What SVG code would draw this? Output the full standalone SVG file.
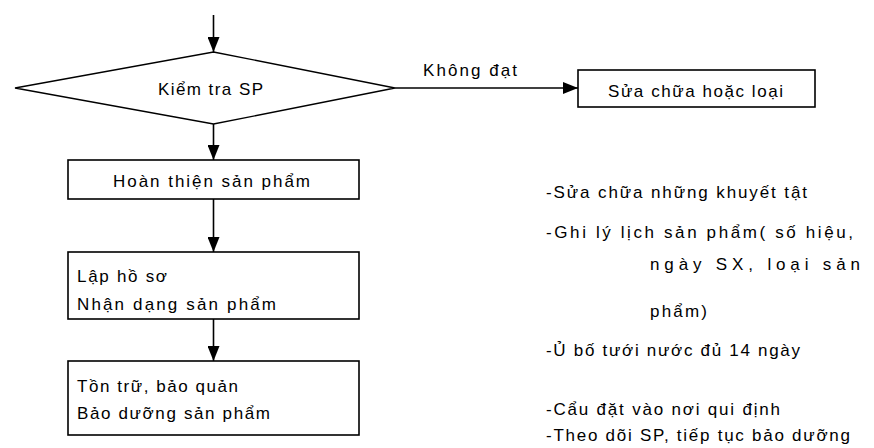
<svg xmlns="http://www.w3.org/2000/svg" width="874" height="448" viewBox="0 0 874 448">
  <style>
    .shape { fill: #ffffff; stroke: #000000; stroke-width: 1.6; }
    .diamond { fill: #ffffff; stroke: #000000; stroke-width: 1.3; }
    .edge { fill: none; stroke: #000000; stroke-width: 1.6; }
    text { font-family: "Liberation Sans", Arial, sans-serif; font-size: 17px; fill: #000000; }
  </style>
  <defs>
    <marker id="arrow" markerUnits="userSpaceOnUse" markerWidth="15" markerHeight="12" refX="15" refY="6" orient="auto">
      <path d="M0,0 L15,6 L0,12 z" fill="#000000"/>
    </marker>
  </defs>

  <!-- connectors -->
  <g id="connectors">
    <line class="edge" x1="213.5" y1="15" x2="213.5" y2="52" marker-end="url(#arrow)"/>
    <line class="edge" x1="213.5" y1="124" x2="213.5" y2="160" marker-end="url(#arrow)"/>
    <line class="edge" x1="213.5" y1="199" x2="213.5" y2="252" marker-end="url(#arrow)"/>
    <line class="edge" x1="213.5" y1="319" x2="213.5" y2="361" marker-end="url(#arrow)"/>
    <line class="edge" x1="395" y1="88" x2="578" y2="88" marker-end="url(#arrow)"/>
    <text x="423" y="76" textLength="94" lengthAdjust="spacing">Không đạt</text>
  </g>

  <!-- decision -->
  <g id="kiem-tra">
    <polygon class="diamond" points="213.5,52 395,88 213.5,124 15,88"/>
    <text x="158" y="95" textLength="105" lengthAdjust="spacing">Kiểm tra SP</text>
  </g>

  <g id="sua-chua">
    <rect class="shape" x="578" y="70" width="237" height="37"/>
    <text x="608" y="97" textLength="175" lengthAdjust="spacing">Sửa chữa hoặc loại</text>
  </g>

  <g id="hoan-thien">
    <rect class="shape" x="68" y="160" width="291" height="39"/>
    <text x="113" y="187" textLength="197" lengthAdjust="spacing">Hoàn thiện sản phẩm</text>
  </g>

  <g id="lap-ho-so">
    <rect class="shape" x="68" y="252" width="291" height="67"/>
    <text x="77" y="282" textLength="90" lengthAdjust="spacing">Lập hồ sơ</text>
    <text x="77" y="310" textLength="199" lengthAdjust="spacing">Nhận dạng sản phẩm</text>
  </g>

  <g id="ton-tru">
    <rect class="shape" x="68" y="361" width="291" height="74"/>
    <text x="77" y="392" textLength="161" lengthAdjust="spacing">Tồn trữ, bảo quản</text>
    <text x="77" y="419" textLength="193" lengthAdjust="spacing">Bảo dưỡng sản phẩm</text>
  </g>

  <!-- notes -->
  <g id="notes">
    <text x="546" y="198" textLength="261" lengthAdjust="spacing">-Sửa chữa những khuyết tật</text>
    <text x="546" y="238" textLength="307" lengthAdjust="spacing">-Ghi lý lịch sản phẩm( số hiệu,</text>
    <text x="650" y="270" textLength="210" lengthAdjust="spacing">ngày SX, loại sản</text>
    <text x="650" y="317" textLength="57" lengthAdjust="spacing">phẩm)</text>
    <text x="546" y="356" textLength="254" lengthAdjust="spacing">-Ủ bố tưới nước đủ 14 ngày</text>
    <text x="546" y="415" textLength="234" lengthAdjust="spacing">-Cẩu đặt vào nơi qui định</text>
    <text x="546" y="441" textLength="304" lengthAdjust="spacing">-Theo dõi SP, tiếp tục bảo dưỡng</text>
  </g>
</svg>
